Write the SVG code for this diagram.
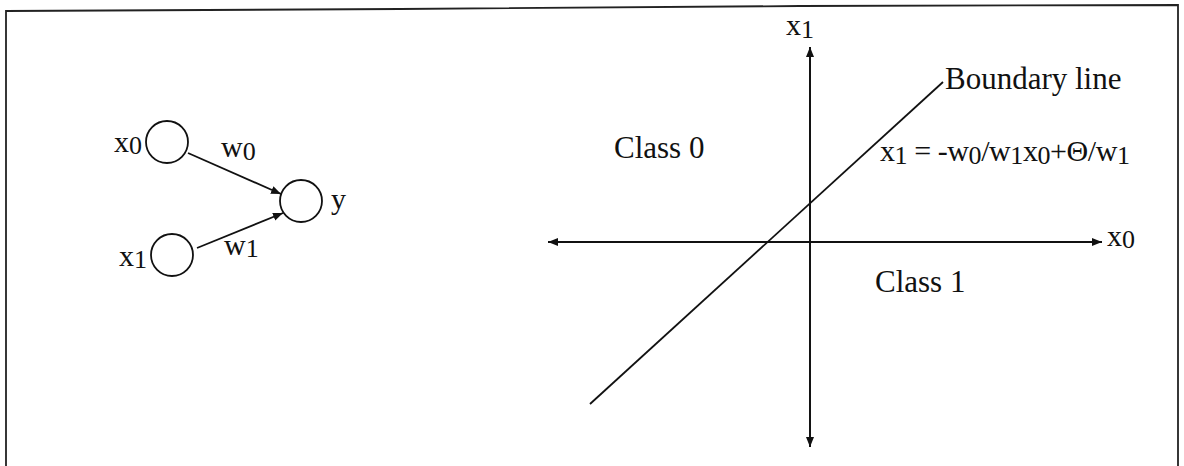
<svg xmlns="http://www.w3.org/2000/svg" width="1184" height="466" viewBox="0 0 1184 466">
  <style>
    .t { font-family: "Liberation Serif", "Times New Roman", serif; fill: #111; }
    .lbl { font-size: 30px; }
    .big { font-size: 31px; }
    .sub { font-size: 26px; }
    .node { fill: #fff; stroke: #111; stroke-width: 1.8; }
    .ln { stroke: #111; stroke-width: 1.8; fill: none; }
    .frame { stroke: #222; stroke-width: 1.8; fill: none; }
  </style>
  <defs>
    <marker id="ah" viewBox="0 0 10 10" refX="10" refY="5" markerWidth="10" markerHeight="10" markerUnits="userSpaceOnUse" orient="auto">
      <path d="M0,1 L10,5 L0,9 Z" fill="#111"/>
    </marker>
  </defs>

  <!-- frame -->
  <polyline class="frame" points="6,466 6,11 400,9 800,6 1178,5 1178,466"/>

  <!-- left: perceptron -->
  <g id="node-x0">
    <circle class="node" cx="167" cy="142" r="21"/>
    <text class="t lbl" x="114" y="152">x<tspan class="sub" dy="2">0</tspan></text>
  </g>
  <g id="node-x1">
    <circle class="node" cx="172" cy="255" r="21"/>
    <text class="t lbl" x="119" y="266">x<tspan class="sub" dy="2">1</tspan></text>
  </g>
  <g id="node-y">
    <circle class="node" cx="301" cy="201" r="21"/>
    <text class="t lbl" x="331" y="209">y</text>
  </g>
  <g id="connectors">
    <line class="ln" x1="188" y1="153" x2="281" y2="194" marker-end="url(#ah)"/>
    <line class="ln" x1="197" y1="248" x2="283" y2="213" marker-end="url(#ah)"/>
    <text class="t lbl" x="221" y="157">w<tspan class="sub" dy="3">0</tspan></text>
    <text class="t lbl" x="224" y="255">w<tspan class="sub" dy="2">1</tspan></text>
  </g>

  <!-- right: decision boundary plot -->
  <g id="axes">
    <line class="ln" x1="1102" y1="242" x2="548" y2="242" marker-end="url(#ah)"/>
    <line class="ln" x1="548" y1="242" x2="1102" y2="242" marker-end="url(#ah)"/>
    <line class="ln" x1="810" y1="447" x2="810" y2="47" marker-end="url(#ah)"/>
    <line class="ln" x1="810" y1="47" x2="810" y2="447" marker-end="url(#ah)"/>
    <text class="t lbl" x="1107" y="246">x<tspan class="sub" dy="2">0</tspan></text>
    <text class="t lbl" x="786" y="35">x<tspan class="sub" dy="3">1</tspan></text>
  </g>
  <g id="boundary">
    <line class="ln" x1="590" y1="404" x2="943" y2="82"/>
    <text class="t big" x="945" y="89">Boundary line</text>
    <text class="t lbl" x="880" y="161" textLength="250">x<tspan class="sub" dy="3">1</tspan><tspan dy="-3"> = -w</tspan><tspan class="sub" dy="3">0</tspan><tspan dy="-3">/w</tspan><tspan class="sub" dy="3">1</tspan><tspan dy="-3">x</tspan><tspan class="sub" dy="3">0</tspan><tspan dy="-3">+Θ/w</tspan><tspan class="sub" dy="3">1</tspan></text>
  </g>
  <g id="class0">
    <text class="t big" x="614" y="158">Class 0</text>
  </g>
  <g id="class1">
    <text class="t big" x="875" y="292">Class 1</text>
  </g>
</svg>
